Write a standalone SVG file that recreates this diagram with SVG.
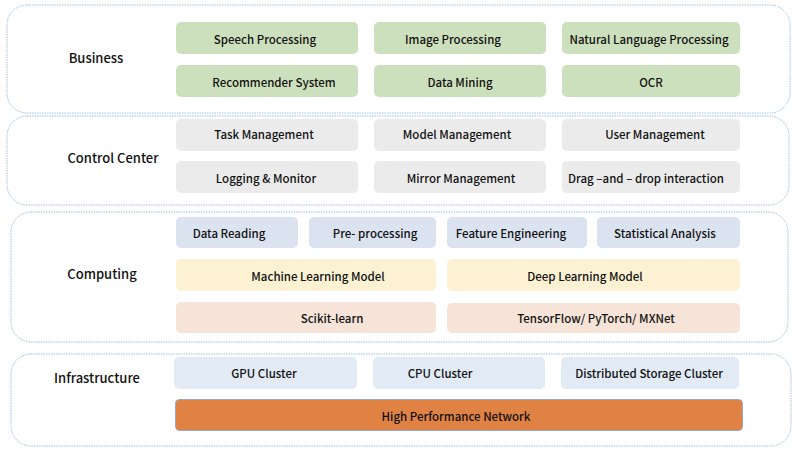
<svg xmlns="http://www.w3.org/2000/svg" width="800" height="455" viewBox="0 0 800 455">
<style>
.layer{fill:#fff;stroke:#9dbfe3;stroke-width:1;stroke-dasharray:1.5 1}
.lbl{font-family:"Noto Sans CJK SC","Noto Sans",sans-serif;font-size:13px;font-weight:500;fill:#111;text-anchor:middle;dominant-baseline:central}
.t{font-family:"Noto Sans CJK SC","Noto Sans",sans-serif;font-size:11.5px;font-weight:500;fill:#111;text-anchor:middle;dominant-baseline:central}
.g{fill:#cde0bd}
.c{fill:#ebebeb}
.b{fill:#dbe3f0}
.y{fill:#fcf2d3}
.p{fill:#f6e4d8}
.i{fill:#e1eaf5}
.o{fill:#df8244;stroke:#8fa9d0;stroke-width:1}
</style>
<g id="business">
<rect class="layer" x="7" y="5" width="783" height="108" rx="20"/>
<text class="lbl" x="96" y="57">Business</text>
</g>
<g id="speech"><rect class="g" x="176" y="22" width="182" height="32" rx="5"/><text class="t" x="265" y="39">Speech Processing</text></g>
<g id="image"><rect class="g" x="374" y="22" width="172" height="32" rx="5"/><text class="t" x="453" y="39">Image Processing</text></g>
<g id="nlp"><rect class="g" x="562" y="22" width="178" height="32" rx="5"/><text class="t" x="649" y="39">Natural Language Processing</text></g>
<g id="recommender"><rect class="g" x="176" y="65" width="182" height="32" rx="5"/><text class="t" x="274" y="81.5">Recommender System</text></g>
<g id="datamining"><rect class="g" x="374" y="65" width="172" height="32" rx="5"/><text class="t" x="460" y="81.5">Data Mining</text></g>
<g id="ocr"><rect class="g" x="562" y="65" width="178" height="32" rx="5"/><text class="t" x="651" y="81.5">OCR</text></g>

<g id="control">
<rect class="layer" x="7" y="116" width="782" height="89" rx="20"/>
<text class="lbl" x="113" y="157">Control Center</text>
</g>
<g id="task"><rect class="c" x="176" y="119" width="182" height="32" rx="5"/><text class="t" x="264" y="133.5">Task Management</text></g>
<g id="model"><rect class="c" x="374" y="119" width="172" height="32" rx="5"/><text class="t" x="457" y="133.5">Model Management</text></g>
<g id="user"><rect class="c" x="562" y="119" width="178" height="32" rx="5"/><text class="t" x="655" y="133.5">User Management</text></g>
<g id="logging"><rect class="c" x="176" y="161" width="182" height="32" rx="5"/><text class="t" x="266" y="177.5">Logging &amp; Monitor</text></g>
<g id="mirror"><rect class="c" x="374" y="161" width="172" height="32" rx="5"/><text class="t" x="461" y="177.5">Mirror Management</text></g>
<g id="drag"><rect class="c" x="562" y="161" width="178" height="32" rx="5"/><text class="t" x="646" y="177.5">Drag –and – drop interaction</text></g>

<g id="computing">
<rect class="layer" x="11" y="212" width="777" height="130" rx="20"/>
<text class="lbl" x="102" y="273.5">Computing</text>
</g>
<g id="datareading"><rect class="b" x="176" y="217" width="122" height="31" rx="5"/><text class="t" x="229" y="232.5">Data Reading</text></g>
<g id="preprocessing"><rect class="b" x="309" y="217" width="127" height="31" rx="5"/><text class="t" x="375" y="232.5">Pre- processing</text></g>
<g id="feature"><rect class="b" x="447" y="217" width="140" height="31" rx="5"/><text class="t" x="511" y="232.5">Feature Engineering</text></g>
<g id="statistical"><rect class="b" x="597" y="217" width="143" height="31" rx="5"/><text class="t" x="665" y="232.5">Statistical Analysis</text></g>
<g id="ml"><rect class="y" x="176" y="259" width="260" height="32" rx="5"/><text class="t" x="318" y="275.5">Machine Learning Model</text></g>
<g id="dl"><rect class="y" x="447" y="259" width="293" height="32" rx="5"/><text class="t" x="585" y="275.5">Deep Learning Model</text></g>
<g id="sklearn"><rect class="p" x="176" y="302" width="260" height="31" rx="5"/><text class="t" x="332" y="317.5">Scikit-learn</text></g>
<g id="tf"><rect class="p" x="447" y="303" width="293" height="30" rx="5"/><text class="t" x="596" y="317.5">TensorFlow/ PyTorch/ MXNet</text></g>

<g id="infrastructure">
<rect class="layer" x="11" y="354" width="780" height="92" rx="20"/>
<text class="lbl" x="97" y="377.5">Infrastructure</text>
</g>
<g id="gpu"><rect class="i" x="174" y="357" width="183" height="32" rx="5"/><text class="t" x="264" y="372.5">GPU Cluster</text></g>
<g id="cpu"><rect class="i" x="373" y="357" width="172" height="32" rx="5"/><text class="t" x="440" y="372.5">CPU Cluster</text></g>
<g id="storage"><rect class="i" x="561" y="357" width="178" height="32" rx="5"/><text class="t" x="649" y="372.5">Distributed Storage Cluster</text></g>
<g id="network"><rect class="o" x="175.5" y="399.5" width="567" height="31" rx="4"/><text class="t" x="456" y="415.5">High Performance Network</text></g>
<g id="connectors"/>
</svg>
